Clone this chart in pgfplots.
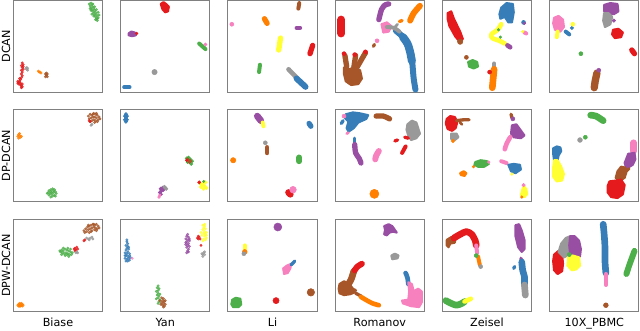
\documentclass[border=0pt]{standalone}
\usepackage{fontspec}
\setmainfont{DejaVu Sans}
\usepackage{pgfplots}
\pgfplotsset{compat=1.18}
\definecolor{cR}{HTML}{E41A1C}
\definecolor{cB}{HTML}{377EB8}
\definecolor{cG}{HTML}{4DAF4A}
\definecolor{cP}{HTML}{984EA3}
\definecolor{cO}{HTML}{FF7F00}
\definecolor{cY}{HTML}{FFFF33}
\definecolor{cBr}{HTML}{A65628}
\definecolor{cPk}{HTML}{F781BF}
\definecolor{cGr}{HTML}{999999}
\pgfplotsset{
 panel/.style={scale only axis, width=67pt, height=69pt, xmin=0,xmax=1,ymin=0,ymax=1,
   xtick=\empty, ytick=\empty, axis line style={draw=black!50, line width=0.8pt}, anchor=south west,
   xlabel style={at={(axis description cs:0.5,-0.165)}, anchor=base, font=\fontsize{8.4}{9}\selectfont},
   ylabel style={at={(axis description cs:-0.035,0.5)}, anchor=base, font=\fontsize{8.4}{9}\selectfont}},
 dt/.style={only marks, mark=*, mark size=#1},
 sd/.style={only marks, mark=*, mark size=#1, opacity=0.75},
 st/.style={line width=#1, line cap=round, line join=round, mark=none, smooth},
 bl/.style={fill, line width=1.6pt, line join=round, mark=none},
}
\begin{document}
\begin{tikzpicture}
\useasboundingbox (0,0) rectangle (480pt,248.25pt);
% ================= ROW 1: DCAN =================
\begin{axis}[panel, at={(10.0pt,179.0pt)}, ylabel={DCAN}]
\addplot[cG, sd=0.9pt] coordinates {(0.85,0.96)(0.87,0.97)(0.86,0.94)(0.88,0.95)(0.87,0.92)(0.89,0.93)(0.88,0.90)(0.90,0.91)(0.86,0.91)(0.89,0.88)(0.91,0.89)(0.90,0.86)(0.92,0.87)(0.91,0.84)(0.93,0.85)(0.92,0.82)(0.94,0.83)(0.93,0.80)(0.95,0.81)(0.94,0.78)(0.92,0.79)(0.96,0.84)(0.88,0.85)(0.90,0.83)(0.95,0.87)(0.87,0.89)(0.93,0.90)(0.89,0.96)(0.91,0.93)(0.94,0.80)};
\addplot[cR, sd=0.9pt] coordinates {(0.10,0.32)(0.11,0.30)(0.09,0.29)(0.10,0.27)(0.11,0.25)(0.09,0.24)(0.10,0.22)(0.09,0.20)(0.10,0.18)(0.09,0.16)(0.08,0.14)(0.07,0.12)(0.06,0.11)(0.05,0.10)(0.06,0.09)(0.08,0.08)(0.09,0.07)(0.09,0.05)(0.10,0.06)(0.08,0.10)(0.07,0.15)(0.11,0.28)(0.10,0.09)(0.05,0.12)};
\addplot[cGr, sd=0.9pt] coordinates {(0.14,0.26)(0.15,0.25)(0.16,0.26)(0.15,0.27)(0.16,0.24)};
\addplot[cO, sd=0.9pt] coordinates {(0.28,0.23)(0.29,0.22)(0.31,0.21)(0.30,0.22)};
\addplot[cBr, sd=0.9pt] coordinates {(0.36,0.20)(0.37,0.19)(0.38,0.20)(0.37,0.18)(0.36,0.17)(0.38,0.17)(0.37,0.21)};
\end{axis}
\begin{axis}[panel, at={(90.45pt,179.0pt)}]
\addplot[cR, bl] coordinates {(0.45,0.96)(0.48,0.98)(0.51,0.96)(0.54,0.93)(0.53,0.88)(0.50,0.87)(0.47,0.90)} -- cycle;
\addplot[cP, bl] coordinates {(0.09,0.64)(0.12,0.66)(0.16,0.65)(0.17,0.62)(0.13,0.61)(0.09,0.62)} -- cycle;
\addplot[cR, dt=1pt] coordinates {(0.18,0.64)};
\addplot[cG, st=3pt] coordinates {(0.88,0.53)(0.95,0.47)};
\addplot[cPk, dt=1.2pt] coordinates {(0.95,0.52)};
\addplot[cGr, dt=2pt] coordinates {(0.38,0.22)};
\addplot[cB, st=3pt] coordinates {(0.04,0.055)(0.10,0.055)};
\end{axis}
\begin{axis}[panel, at={(170.85pt,179.0pt)}]
\addplot[cBr, st=3pt] coordinates {(0.80,0.97)(0.79,0.91)};
\addplot[cPk, dt=1.5pt] coordinates {(0.045,0.74)};
\addplot[cO, st=4pt] coordinates {(0.41,0.80)(0.44,0.75)};
\addplot[cP, st=3pt] coordinates {(0.77,0.70)(0.81,0.70)};
\addplot[cY, st=4pt] coordinates {(0.59,0.59)(0.57,0.46)};
\addplot[cR, st=4pt] coordinates {(0.95,0.51)(0.92,0.42)};
\addplot[cG, st=3pt] coordinates {(0.36,0.30)(0.35,0.22)};
\addplot[cGr, st=3.5pt] coordinates {(0.68,0.25)(0.77,0.16)};
\addplot[cB, st=4.5pt] coordinates {(0.77,0.15)(0.87,0.06)};
\end{axis}
\begin{axis}[panel, at={(251.3pt,179.0pt)}]
\addplot[cR, st=6pt] coordinates {(0.07,0.79)(0.07,0.64)};
\addplot[cP, st=4pt] coordinates {(0.49,0.79)(0.52,0.90)(0.56,0.95)(0.60,0.96)};
\addplot[cO, st=4.5pt] coordinates {(0.84,0.78)(0.88,0.86)(0.95,0.94)};
\addplot[cO, st=2.5pt] coordinates {(0.72,0.77)(0.75,0.78)};
\addplot[cB, st=4.5pt] coordinates {(0.68,0.67)(0.74,0.62)(0.80,0.55)(0.84,0.46)(0.86,0.36)(0.87,0.26)(0.88,0.15)(0.90,0.03)};
\addplot[cB, st=6pt] coordinates {(0.76,0.60)(0.81,0.53)(0.84,0.44)(0.86,0.34)};
\addplot[cPk, bl] coordinates {(0.52,0.74)(0.58,0.76)(0.63,0.72)(0.60,0.66)(0.54,0.65)} -- cycle;
\addplot[cGr, st=3pt] coordinates {(0.58,0.71)(0.66,0.70)(0.72,0.66)};
\addplot[cGr, st=2pt] coordinates {(0.66,0.70)(0.70,0.74)};
\addplot[cPk, dt=1.5pt] coordinates {(0.47,0.56)};
\addplot[cBr, st=2.5pt] coordinates {(0.43,0.50)(0.44,0.52)};
\addplot[cBr, st=4pt] coordinates {(0.11,0.40)(0.13,0.28)};
\addplot[cBr, st=4pt] coordinates {(0.23,0.40)(0.21,0.27)};
\addplot[cBr, st=4pt] coordinates {(0.34,0.43)(0.25,0.28)};
\addplot[cBr, bl] coordinates {(0.10,0.27)(0.15,0.25)(0.22,0.27)(0.28,0.24)(0.30,0.15)(0.26,0.09)(0.18,0.08)(0.12,0.12)(0.10,0.20)} -- cycle;
\addplot[cR, dt=1.5pt] coordinates {(0.10,0.42)(0.22,0.41)(0.34,0.44)};
\end{axis}
\begin{axis}[panel, at={(331.7pt,179.0pt)}]
\addplot[cR, bl] coordinates {(0.06,0.86)(0.10,0.88)(0.13,0.80)(0.20,0.66)(0.23,0.58)(0.20,0.55)(0.15,0.60)(0.08,0.72)(0.06,0.80)} -- cycle;
\addplot[cBr, dt=2pt] coordinates {(0.20,0.55)};
\addplot[cB, bl] coordinates {(0.66,0.92)(0.72,0.97)(0.79,0.96)(0.80,0.87)(0.78,0.76)(0.74,0.76)(0.70,0.82)(0.65,0.80)(0.64,0.85)} -- cycle;
\addplot[cB, dt=1.5pt] coordinates {(0.91,0.76)};
\addplot[cP, dt=1pt] coordinates {(0.92,0.75)};
\addplot[cPk, st=3pt] coordinates {(0.92,0.65)(0.94,0.64)};
\addplot[cY, dt=1pt] coordinates {(0.90,0.66)};
\addplot[cY, st=3.5pt] coordinates {(0.66,0.74)(0.62,0.68)(0.55,0.63)(0.56,0.59)(0.64,0.56)(0.70,0.53)};
\addplot[cG, dt=1pt] coordinates {(0.63,0.68)(0.65,0.60)};
\addplot[cP, st=3.5pt] coordinates {(0.73,0.51)(0.76,0.49)};
\addplot[cBr, dt=1.5pt] coordinates {(0.27,0.38)};
\addplot[cG, bl] coordinates {(0.29,0.33)(0.34,0.35)(0.39,0.33)(0.40,0.28)(0.35,0.26)(0.30,0.28)} -- cycle;
\addplot[cGr, st=3.5pt] coordinates {(0.58,0.31)(0.58,0.28)};
\addplot[cR, dt=1.5pt] coordinates {(0.53,0.22)};
\addplot[cO, st=5pt] coordinates {(0.58,0.25)(0.57,0.15)(0.56,0.05)};
\end{axis}
\begin{axis}[panel, at={(412.2pt,179.0pt)}]
\addplot[cPk, bl] coordinates {(0.05,0.81)(0.10,0.83)(0.15,0.79)(0.16,0.71)(0.12,0.66)(0.06,0.68)(0.04,0.75)} -- cycle;
\addplot[cY, st=3pt] coordinates {(0.09,0.66)(0.08,0.60)};
\addplot[cB, st=3pt] coordinates {(0.18,0.66)(0.22,0.63)};
\addplot[cB, dt=1.3pt] coordinates {(0.25,0.70)};
\addplot[cY, dt=1.5pt] coordinates {(0.26,0.74)};
\addplot[cP, bl] coordinates {(0.61,0.95)(0.68,0.97)(0.76,0.96)(0.77,0.88)(0.72,0.85)(0.65,0.86)(0.61,0.88)} -- cycle;
\addplot[cGr, bl] coordinates {(0.61,0.86)(0.66,0.86)(0.70,0.82)(0.68,0.74)(0.62,0.71)(0.60,0.78)} -- cycle;
\addplot[cR, bl] coordinates {(0.71,0.68)(0.77,0.69)(0.82,0.65)(0.80,0.60)(0.73,0.59)(0.70,0.63)} -- cycle;
\addplot[cP, dt=1.3pt] coordinates {(0.72,0.78)};
\addplot[cR, st=4pt] coordinates {(0.92,0.46)(0.95,0.42)};
\addplot[cG, dt=1.5pt] coordinates {(0.35,0.42)};
\addplot[cBr, st=5.5pt] coordinates {(0.53,0.21)(0.51,0.12)(0.50,0.05)};
\addplot[cP, dt=1.5pt] coordinates {(0.55,0.24)};
\end{axis}
% ================= ROW 2: DP-DCAN =================
\begin{axis}[panel, at={(10.0pt,97.0pt)}, ylabel={DP-DCAN}]
\addplot[cBr, sd=0.9pt] coordinates {(0.84,0.93)(0.86,0.95)(0.88,0.94)(0.90,0.96)(0.92,0.95)(0.94,0.94)(0.96,0.92)(0.85,0.90)(0.87,0.91)(0.89,0.92)(0.91,0.92)(0.93,0.91)(0.95,0.89)(0.88,0.88)(0.90,0.89)(0.92,0.88)(0.94,0.87)(0.86,0.87)(0.91,0.86)(0.89,0.95)(0.93,0.96)(0.97,0.90)};
\addplot[cR, sd=0.9pt] coordinates {(0.85,0.88)(0.86,0.87)};
\addplot[cGr, sd=0.9pt] coordinates {(0.87,0.83)(0.88,0.84)};
\addplot[cO, sd=0.9pt] coordinates {(0.05,0.71)(0.06,0.73)(0.07,0.72)(0.08,0.70)(0.06,0.69)(0.07,0.74)(0.09,0.71)};
\addplot[cG, sd=0.9pt] coordinates {(0.39,0.10)(0.40,0.12)(0.42,0.13)(0.44,0.14)(0.46,0.13)(0.47,0.11)(0.48,0.09)(0.46,0.07)(0.44,0.06)(0.42,0.05)(0.40,0.07)(0.41,0.09)(0.43,0.10)(0.45,0.10)(0.43,0.08)(0.45,0.12)(0.42,0.11)(0.38,0.09)(0.47,0.06)};
\end{axis}
\begin{axis}[panel, at={(90.45pt,97.0pt)}]
\addplot[cB, dt=1.3pt] coordinates {(0.06,0.95)(0.05,0.93)(0.07,0.93)(0.06,0.91)(0.05,0.89)(0.07,0.89)(0.06,0.87)};
\addplot[cG, dt=1.2pt] coordinates {(0.74,0.47)(0.76,0.48)(0.78,0.46)(0.80,0.44)(0.79,0.41)(0.75,0.43)};
\addplot[cBr, dt=1.2pt] coordinates {(0.76,0.45)(0.77,0.43)(0.78,0.44)(0.75,0.46)};
\addplot[cR, dt=1pt] coordinates {(0.74,0.45)};
\addplot[cY, dt=1.3pt] coordinates {(0.89,0.20)(0.92,0.19)(0.94,0.17)(0.96,0.15)(0.93,0.14)(0.90,0.16)(0.91,0.18)(0.95,0.21)};
\addplot[cR, dt=1.2pt] coordinates {(0.88,0.21)};
\addplot[cG, dt=0.9pt] coordinates {(0.93,0.22)};
\addplot[cP, dt=1.3pt] coordinates {(0.45,0.14)(0.47,0.15)(0.46,0.12)(0.44,0.10)(0.45,0.08)(0.48,0.13)};
\addplot[cGr, dt=1.3pt] coordinates {(0.50,0.15)(0.51,0.14)(0.49,0.16)};
\addplot[cPk, dt=1pt] coordinates {(0.43,0.05)(0.44,0.07)};
\end{axis}
\begin{axis}[panel, at={(170.85pt,97.0pt)}]
\addplot[cP, st=5pt] coordinates {(0.33,0.93)(0.37,0.88)};
\addplot[cY, st=3pt] coordinates {(0.39,0.86)(0.40,0.82)};
\addplot[cB, st=4pt] coordinates {(0.91,0.85)(0.93,0.82)};
\addplot[cGr, dt=1.5pt] coordinates {(0.42,0.64)};
\addplot[cBr, st=3.5pt] coordinates {(0.44,0.59)(0.44,0.53)};
\addplot[cO, dt=2pt] coordinates {(0.06,0.45)};
\addplot[cG, st=4.5pt] coordinates {(0.80,0.48)(0.80,0.44)};
\addplot[cPk, dt=2.5pt] coordinates {(0.73,0.13)};
\addplot[cR, st=5pt] coordinates {(0.68,0.10)(0.70,0.08)};
\end{axis}
\begin{axis}[panel, at={(251.3pt,97.0pt)}]
\addplot[cB, bl] coordinates {(0.12,0.95)(0.20,0.97)(0.28,0.96)(0.37,0.94)(0.35,0.90)(0.26,0.86)(0.21,0.80)(0.15,0.76)(0.13,0.80)(0.15,0.87)(0.11,0.91)} -- cycle;
\addplot[cB, st=2.5pt] coordinates {(0.07,0.85)(0.09,0.88)};
\addplot[cPk, dt=1.5pt] coordinates {(0.10,0.93)};
\addplot[cPk, st=2pt] coordinates {(0.13,0.74)(0.15,0.75)};
\addplot[cBr, st=4pt] coordinates {(0.46,0.93)(0.54,0.93)(0.61,0.90)};
\addplot[cGr, bl] coordinates {(0.81,0.84)(0.86,0.88)(0.91,0.86)(0.93,0.80)(0.95,0.74)(0.91,0.69)(0.85,0.67)(0.82,0.72)(0.80,0.78)} -- cycle;
\addplot[cR, st=2.5pt] coordinates {(0.67,0.66)(0.70,0.67)};
\addplot[cR, st=2.5pt] coordinates {(0.78,0.70)(0.82,0.69)};
\addplot[cR, st=3pt] coordinates {(0.79,0.60)(0.75,0.53)};
\addplot[cB, st=2.5pt] coordinates {(0.22,0.69)(0.22,0.63)};
\addplot[cP, st=4pt] coordinates {(0.22,0.62)(0.23,0.53)(0.27,0.47)(0.29,0.42)};
\addplot[cPk, st=4.5pt] coordinates {(0.49,0.55)(0.46,0.50)(0.45,0.46)};
\addplot[cO, dt=3.4pt] coordinates {(0.44,0.085)};
\end{axis}
\begin{axis}[panel, at={(331.7pt,97.0pt)}]
\addplot[cR, bl] coordinates {(0.05,0.90)(0.09,0.93)(0.14,0.92)(0.17,0.87)(0.15,0.80)(0.11,0.77)(0.06,0.79)(0.04,0.85)} -- cycle;
\addplot[cBr, st=2.5pt] coordinates {(0.16,0.88)(0.24,0.89)(0.30,0.89)};
\addplot[cBr, st=2pt] coordinates {(0.20,0.86)(0.22,0.84)};
\addplot[cGr, bl] coordinates {(0.10,0.74)(0.16,0.74)(0.18,0.70)(0.14,0.67)(0.10,0.68)} -- cycle;
\addplot[cO, dt=1.3pt] coordinates {(0.12,0.66)};
\addplot[cBr, st=2.5pt] coordinates {(0.77,0.95)(0.78,0.91)};
\addplot[cP, dt=1.5pt] coordinates {(0.79,0.90)};
\addplot[cP, bl] coordinates {(0.78,0.83)(0.83,0.84)(0.86,0.80)(0.92,0.72)(0.88,0.69)(0.80,0.70)(0.77,0.74)} -- cycle;
\addplot[cPk, st=3.5pt] coordinates {(0.76,0.70)(0.72,0.63)(0.70,0.57)};
\addplot[cG, bl] coordinates {(0.37,0.43)(0.43,0.45)(0.50,0.44)(0.52,0.41)(0.47,0.38)(0.40,0.38)(0.36,0.40)} -- cycle;
\addplot[cPk, dt=1pt] coordinates {(0.52,0.43)};
\addplot[cO, dt=1pt] coordinates {(0.35,0.38)};
\addplot[cO, bl] coordinates {(0.20,0.31)(0.24,0.33)(0.27,0.31)(0.25,0.28)(0.21,0.29)} -- cycle;
\addplot[cPk, st=3pt] coordinates {(0.66,0.44)(0.72,0.42)};
\addplot[cB, bl] coordinates {(0.74,0.40)(0.80,0.41)(0.87,0.40)(0.88,0.35)(0.82,0.31)(0.77,0.33)} -- cycle;
\addplot[cY, dt=1pt] coordinates {(0.78,0.30)};
\addplot[cY, bl] coordinates {(0.91,0.17)(0.89,0.11)(0.88,0.07)(0.92,0.05)(0.95,0.08)(0.94,0.14)} -- cycle;
\addplot[cPk, dt=1.3pt] coordinates {(0.91,0.18)};
\addplot[cO, dt=1pt] coordinates {(0.89,0.05)};
\end{axis}
\begin{axis}[panel, at={(412.2pt,97.0pt)}]
\addplot[cG, st=5pt] coordinates {(0.46,0.94)(0.52,0.93)(0.60,0.88)};
\addplot[cGr, dt=1.8pt] coordinates {(0.34,0.67)};
\addplot[cG, dt=1.5pt] coordinates {(0.40,0.70)};
\addplot[cB, bl] coordinates {(0.04,0.58)(0.08,0.60)(0.12,0.59)(0.13,0.55)(0.10,0.50)(0.09,0.45)(0.05,0.45)(0.04,0.52)} -- cycle;
\addplot[cY, bl] coordinates {(0.05,0.45)(0.09,0.45)(0.13,0.38)(0.16,0.30)(0.14,0.23)(0.08,0.22)(0.04,0.27)(0.04,0.37)} -- cycle;
\addplot[cPk, st=5pt] coordinates {(0.94,0.64)(0.94,0.55)};
\addplot[cP, bl] coordinates {(0.88,0.52)(0.95,0.53)(0.96,0.46)(0.93,0.40)(0.86,0.36)(0.84,0.42)} -- cycle;
\addplot[cBr, bl] coordinates {(0.80,0.38)(0.85,0.37)(0.86,0.32)(0.84,0.26)(0.78,0.22)(0.74,0.26)(0.76,0.33)} -- cycle;
\addplot[cBr, st=2pt] coordinates {(0.86,0.33)(0.89,0.36)};
\addplot[cR, bl] coordinates {(0.67,0.22)(0.75,0.23)(0.80,0.24)(0.84,0.18)(0.82,0.08)(0.76,0.04)(0.69,0.05)(0.65,0.10)(0.65,0.17)} -- cycle;
\end{axis}
% ================= ROW 3: DPW-DCAN =================
\begin{axis}[panel, at={(10.0pt,14.5pt)}, ylabel={DPW-DCAN}, xlabel={Biase}]
\addplot[cBr, sd=0.9pt] coordinates {(0.79,0.88)(0.81,0.90)(0.83,0.92)(0.85,0.93)(0.87,0.94)(0.89,0.95)(0.91,0.94)(0.93,0.95)(0.95,0.93)(0.96,0.91)(0.94,0.90)(0.92,0.91)(0.90,0.92)(0.88,0.91)(0.86,0.90)(0.84,0.89)(0.82,0.87)(0.80,0.86)(0.85,0.86)(0.88,0.88)(0.91,0.89)(0.93,0.88)(0.87,0.87)(0.90,0.95)(0.84,0.94)};
\addplot[cGr, sd=0.9pt] coordinates {(0.82,0.80)(0.84,0.79)(0.86,0.80)(0.88,0.81)(0.85,0.78)(0.89,0.79)};
\addplot[cR, sd=0.9pt] coordinates {(0.80,0.78)(0.79,0.77)};
\addplot[cG, sd=0.9pt] coordinates {(0.52,0.66)(0.54,0.67)(0.56,0.66)(0.58,0.68)(0.60,0.67)(0.62,0.66)(0.64,0.65)(0.66,0.64)(0.63,0.62)(0.61,0.63)(0.59,0.64)(0.57,0.63)(0.55,0.64)(0.53,0.65)(0.58,0.61)(0.60,0.62)(0.62,0.60)(0.65,0.62)(0.56,0.69)(0.61,0.69)(0.54,0.62)(0.64,0.68)};
\addplot[cR, sd=0.9pt] coordinates {(0.68,0.68)(0.69,0.69)(0.70,0.67)(0.71,0.70)(0.69,0.66)(0.72,0.68)};
\addplot[cGr, sd=0.9pt] coordinates {(0.71,0.65)(0.72,0.64)(0.70,0.64)};
\addplot[cO, sd=0.9pt] coordinates {(0.05,0.07)(0.06,0.08)(0.07,0.06)(0.08,0.08)(0.09,0.07)(0.10,0.08)(0.11,0.07)(0.08,0.06)(0.06,0.06)(0.10,0.06)(0.07,0.09)(0.09,0.09)};
\end{axis}
\begin{axis}[panel, at={(90.45pt,14.5pt)}, xlabel={Yan}]
\addplot[cB, sd=0.9pt] coordinates {(0.07,0.76)(0.08,0.74)(0.06,0.72)(0.08,0.71)(0.07,0.69)(0.09,0.68)(0.06,0.67)(0.08,0.65)(0.05,0.64)(0.07,0.63)(0.10,0.63)(0.06,0.61)(0.08,0.60)(0.10,0.61)(0.05,0.58)(0.07,0.57)(0.09,0.58)(0.11,0.59)(0.06,0.55)(0.08,0.55)(0.10,0.56)(0.05,0.61)(0.09,0.70)(0.07,0.78)};
\addplot[cPk, sd=0.9pt] coordinates {(0.13,0.58)};
\addplot[cP, sd=0.9pt] coordinates {(0.75,0.84)(0.74,0.82)(0.76,0.81)(0.73,0.79)(0.75,0.78)(0.77,0.77)(0.74,0.76)(0.76,0.74)(0.73,0.73)(0.75,0.72)(0.77,0.71)(0.74,0.70)(0.76,0.68)(0.75,0.66)(0.74,0.64)(0.76,0.65)(0.73,0.75)(0.77,0.79)};
\addplot[cY, sd=0.9pt] coordinates {(0.92,0.94)(0.94,0.93)(0.93,0.91)(0.95,0.90)(0.92,0.89)(0.94,0.87)(0.96,0.86)(0.93,0.85)(0.95,0.84)(0.91,0.83)(0.94,0.82)(0.96,0.80)(0.93,0.79)(0.95,0.78)(0.92,0.77)(0.96,0.83)(0.90,0.86)(0.94,0.95)};
\addplot[cR, sd=0.9pt] coordinates {(0.86,0.80)(0.87,0.82)(0.88,0.81)(0.89,0.79)(0.87,0.79)(0.90,0.72)};
\addplot[cGr, sd=0.9pt] coordinates {(0.91,0.63)(0.92,0.62)(0.93,0.64)(0.94,0.62)(0.92,0.60)(0.94,0.65)};
\addplot[cG, sd=0.9pt] coordinates {(0.42,0.28)(0.41,0.26)(0.43,0.25)(0.42,0.23)(0.40,0.22)(0.42,0.20)(0.41,0.18)(0.43,0.17)(0.42,0.15)(0.44,0.13)(0.43,0.11)(0.42,0.09)(0.40,0.14)(0.44,0.19)};
\addplot[cBr, sd=0.9pt] coordinates {(0.46,0.15)(0.48,0.14)(0.47,0.12)(0.49,0.11)(0.46,0.10)(0.48,0.09)(0.50,0.08)(0.47,0.07)(0.49,0.06)(0.45,0.08)(0.44,0.12)(0.50,0.12)(0.48,0.05)};
\end{axis}
\begin{axis}[panel, at={(170.85pt,14.5pt)}, xlabel={Li}]
\addplot[cP, dt=3pt] coordinates {(0.56,0.92)};
\addplot[cY, st=3pt] coordinates {(0.19,0.72)(0.19,0.68)};
\addplot[cO, dt=1.8pt] coordinates {(0.19,0.65)};
\addplot[cGr, dt=1.5pt] coordinates {(0.18,0.63)};
\addplot[cPk, bl] coordinates {(0.62,0.47)(0.66,0.50)(0.71,0.52)(0.70,0.47)(0.67,0.42)(0.63,0.41)} -- cycle;
\addplot[cB, st=2.5pt] coordinates {(0.71,0.51)(0.75,0.55)};
\addplot[cBr, dt=2.8pt] coordinates {(0.93,0.21)};
\addplot[cR, dt=2.3pt] coordinates {(0.54,0.12)};
\addplot[cG, bl] coordinates {(0.05,0.13)(0.09,0.15)(0.14,0.14)(0.15,0.08)(0.12,0.05)(0.06,0.05)(0.04,0.08)} -- cycle;
\end{axis}
\begin{axis}[panel, at={(251.3pt,14.5pt)}, xlabel={Romanov}]
\addplot[cP, bl] coordinates {(0.55,0.93)(0.60,0.95)(0.64,0.93)(0.69,0.86)(0.65,0.87)(0.61,0.86)(0.58,0.83)(0.55,0.84)(0.56,0.89)} -- cycle;
\addplot[cGr, bl] coordinates {(0.63,0.61)(0.67,0.63)(0.71,0.61)(0.70,0.58)(0.64,0.57)} -- cycle;
\addplot[cBr, st=5pt] coordinates {(0.21,0.44)(0.18,0.35)(0.15,0.30)};
\addplot[cR, st=4.5pt] coordinates {(0.22,0.45)(0.25,0.49)(0.30,0.52)};
\addplot[cBr, bl] coordinates {(0.05,0.30)(0.10,0.33)(0.16,0.30)(0.20,0.25)(0.22,0.21)(0.17,0.19)(0.10,0.18)(0.05,0.20)(0.04,0.25)} -- cycle;
\addplot[cBr, st=2.5pt] coordinates {(0.20,0.24)(0.23,0.23)};
\addplot[cBr, st=2.5pt] coordinates {(0.23,0.20)(0.29,0.17)};
\addplot[cO, st=3.5pt] coordinates {(0.29,0.16)(0.36,0.12)(0.42,0.09)(0.49,0.07)};
\addplot[cB, st=3.5pt] coordinates {(0.79,0.42)(0.81,0.37)(0.82,0.30)};
\addplot[cPk, bl] coordinates {(0.82,0.32)(0.86,0.30)(0.88,0.22)(0.93,0.25)(0.97,0.22)(0.97,0.10)(0.94,0.05)(0.85,0.06)(0.76,0.09)(0.75,0.12)(0.82,0.13)(0.83,0.22)} -- cycle;
\end{axis}
\begin{axis}[panel, at={(331.7pt,14.5pt)}, xlabel={Zeisel}]
\addplot[cBr, bl] coordinates {(0.05,0.78)(0.10,0.81)(0.15,0.80)(0.14,0.75)(0.09,0.74)(0.07,0.70)(0.05,0.72)} -- cycle;
\addplot[cR, st=5pt] coordinates {(0.13,0.80)(0.20,0.84)(0.27,0.87)(0.33,0.84)(0.37,0.77)(0.38,0.72)};
\addplot[cPk, st=3pt] coordinates {(0.38,0.72)(0.39,0.64)};
\addplot[cG, dt=1.5pt] coordinates {(0.38,0.61)};
\addplot[cO, st=3pt] coordinates {(0.40,0.60)(0.42,0.51)};
\addplot[cGr, dt=1.5pt] coordinates {(0.43,0.49)};
\addplot[cP, bl] coordinates {(0.82,0.94)(0.86,0.95)(0.89,0.88)(0.92,0.78)(0.92,0.68)(0.89,0.65)(0.85,0.70)(0.82,0.82)} -- cycle;
\addplot[cP, st=2.5pt] coordinates {(0.88,0.58)(0.89,0.55)};
\addplot[cB, st=2.5pt] coordinates {(0.81,0.49)(0.80,0.47)};
\addplot[cB, st=5pt] coordinates {(0.89,0.54)(0.90,0.45)(0.92,0.38)(0.92,0.30)};
\addplot[cGr, st=5pt] coordinates {(0.92,0.29)(0.93,0.18)};
\addplot[cG, st=5pt] coordinates {(0.04,0.12)(0.10,0.09)(0.16,0.07)(0.22,0.09)(0.25,0.11)};
\addplot[cY, st=3.5pt] coordinates {(0.25,0.11)(0.32,0.14)};
\end{axis}
\begin{axis}[panel, at={(412.2pt,14.5pt)}, xlabel={10X\_PBMC}]
\addplot[cR, bl] coordinates {(0.05,0.62)(0.10,0.66)(0.14,0.62)(0.15,0.52)(0.14,0.44)(0.09,0.41)(0.05,0.45)(0.04,0.55)} -- cycle;
\addplot[cGr, bl] coordinates {(0.10,0.65)(0.13,0.74)(0.18,0.80)(0.23,0.82)(0.24,0.70)(0.22,0.62)(0.16,0.59)(0.13,0.62)} -- cycle;
\addplot[cP, bl] coordinates {(0.23,0.82)(0.28,0.82)(0.33,0.77)(0.35,0.68)(0.34,0.60)(0.28,0.58)(0.23,0.62)(0.22,0.72)} -- cycle;
\addplot[cY, bl] coordinates {(0.21,0.60)(0.26,0.61)(0.33,0.59)(0.34,0.50)(0.30,0.46)(0.25,0.45)(0.20,0.50)} -- cycle;
\addplot[cG, dt=1.5pt] coordinates {(0.22,0.62)};
\addplot[cB, st=5pt] coordinates {(0.60,0.95)(0.61,0.85)(0.62,0.70)(0.62,0.55)(0.63,0.42)};
\addplot[cPk, st=3pt] coordinates {(0.63,0.41)(0.63,0.29)};
\addplot[cG, st=4.5pt] coordinates {(0.95,0.66)(0.92,0.58)(0.89,0.50)(0.86,0.41)};
\addplot[cBr, dt=1.8pt] coordinates {(0.63,0.07)};
\end{axis}
\end{tikzpicture}
\end{document}
